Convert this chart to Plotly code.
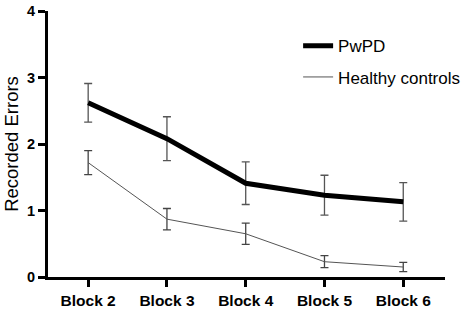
import plotly.graph_objects as go

blocks = ["Block 2", "Block 3", "Block 4", "Block 5", "Block 6"]
pwpd_mean = [2.62, 2.08, 1.41, 1.23, 1.13]
pwpd_err = [0.29, 0.33, 0.32, 0.30, 0.29]
hc_mean = [1.72, 0.87, 0.65, 0.23, 0.15]
hc_err = [0.18, 0.16, 0.16, 0.09, 0.07]
y_ticks = [0, 1, 2, 3, 4]

fig = go.Figure()
fig.add_trace(go.Scatter(
    x=blocks, y=pwpd_mean, mode="lines", name="PwPD", legendgroup="a",
    line=dict(color="black", width=5),
    error_y=dict(type="data", array=pwpd_err, visible=True, color="#555555", thickness=1.3, width=4),
))
fig.add_trace(go.Scatter(
    x=blocks, y=hc_mean, mode="lines", name="Healthy controls", legendgroup="b",
    line=dict(color="#555555", width=1),
    error_y=dict(type="data", array=hc_err, visible=True, color="#444444", thickness=1.3, width=4),
))

font = "Liberation Sans, Arial, sans-serif"
fig.update_layout(
    width=463, height=309,
    margin=dict(l=48, r=18, t=11, b=32, autoexpand=False),
    paper_bgcolor="white", plot_bgcolor="white",
    font=dict(family=font, color="black"),
    legend=dict(x=0.63, y=0.935, xanchor="left", yanchor="top",
                font=dict(size=17, family=font), bgcolor="rgba(0,0,0,0)",
                traceorder="grouped", tracegroupgap=6, itemwidth=30),
    showlegend=True,
)
fig.update_xaxes(
    type="category", range=[-0.51, 4.53], automargin=False,
    showline=True, linecolor="black", linewidth=3,
    ticks="outside", ticklen=7, tickwidth=3, tickcolor="black",
    tickfont=dict(size=15.5, family=font, weight="bold"),
    showgrid=False, zeroline=False,
)
fig.update_yaxes(
    range=[0, 4], tickvals=y_ticks, ticktext=[str(v) for v in y_ticks], automargin=False,
    showline=True, linecolor="black", linewidth=3,
    ticks="outside", ticklen=7, tickwidth=3, tickcolor="black",
    tickfont=dict(size=14.5, family=font, weight="bold"),
    title=dict(text="Recorded Errors", font=dict(size=18.5, family=font), standoff=4),
    showgrid=False, zeroline=False,
)
fig.write_html("out.html", config={"displayModeBar": False},
               post_script="document.body.style.margin='0';")
